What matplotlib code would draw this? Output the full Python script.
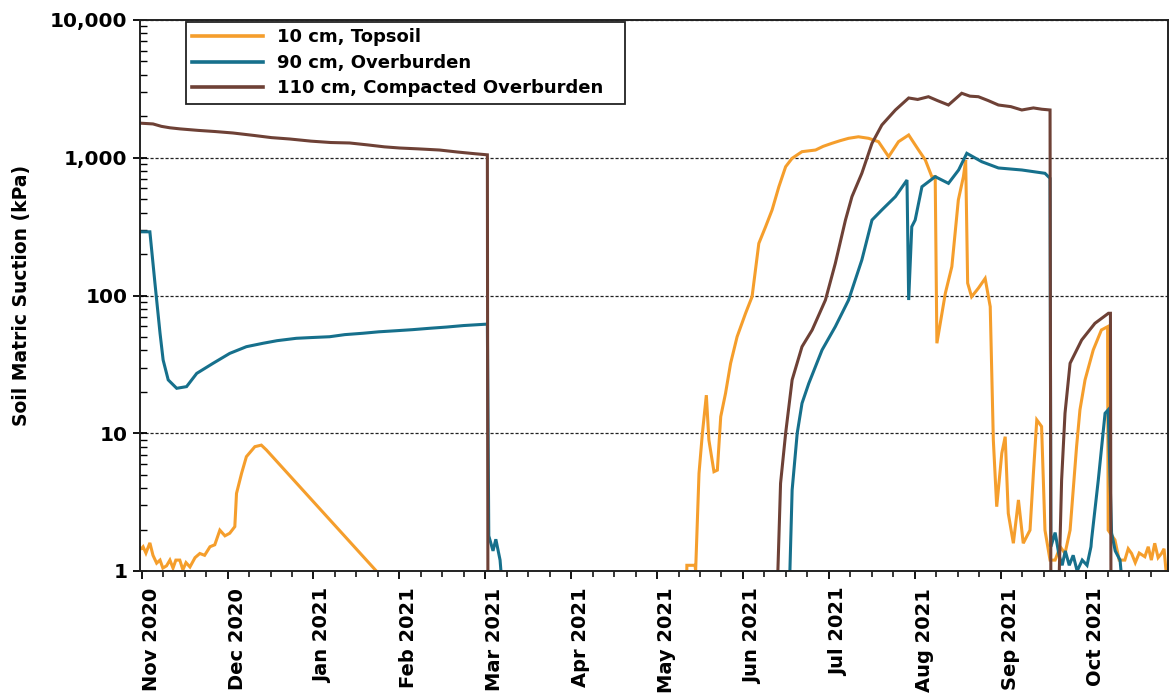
import matplotlib
matplotlib.use("Agg")
import matplotlib.pyplot as plt
from matplotlib.ticker import FixedLocator, FuncFormatter, LogLocator, NullFormatter
import numpy as np

# x values are days since 1 Nov 2020; suction in kPa (values < 1 are off-scale readings)
month_labels = ["Nov 2020", "Dec 2020", "Jan 2021", "Feb 2021", "Mar 2021", "Apr 2021",
                "May 2021", "Jun 2021", "Jul 2021", "Aug 2021", "Sep 2021", "Oct 2021"]

topsoil_day = [0, 0.5, 1.5, 2.9, 4.0, 5.3, 6.5, 7.5, 8.8, 10.0, 11.1, 12.1, 13.5, 14.6, 15.7,
               17.1, 18.9, 20.6, 22.3, 24.2, 25.9, 27.7, 29.5, 31.2, 33.0, 33.6, 35.4, 37.1,
               40.1, 42.4, 44.2, 95.0, 193.0,
               193.2, 196.1, 196.3, 197.5, 198.7, 200.1, 201.0, 202.8, 204.0, 205.2, 206.9,
               208.7, 211.0, 214.0, 216.3, 218.7, 221.1, 223.4, 225.8, 228.2, 230.5, 234.0,
               238.8, 241.5, 244.6, 247.5, 250.5, 254.0, 257.6, 261.1, 264.7, 268.2, 271.8,
               275.3, 277.7, 280.0, 281.2, 281.8, 284.8, 287.1, 289.4, 291.2, 292.0, 292.7,
               294.1, 296.5, 298.9, 300.7, 301.8, 303.0, 304.8, 306.0, 307.1, 308.9, 310.7,
               312.4, 314.8, 316.0, 317.2, 318.9, 320.1, 321.9, 323.7, 325.5, 327.2, 329.0,
               331.3, 332.5, 334.3, 337.2, 340.1, 342.3, 342.5, 344.9, 346.4, 348.4, 349.6,
               350.8, 352.1, 353.5, 355.5, 356.7, 357.8, 359.0, 360.2, 361.4, 362.3, 363.2]
topsoil_kpa = [1.46, 1.5, 1.35, 1.6, 1.3, 1.14, 1.2, 1.05, 1.09, 1.2, 1.05, 1.2, 1.2, 1.02, 1.15,
               1.07, 1.25, 1.34, 1.3, 1.5, 1.55, 1.98, 1.8, 1.88, 2.1, 3.66, 5.12, 6.76,
               7.99, 8.2, 7.56, 0.54, 0.5,
               1.1, 1.1, 1.0, 5.12, 10.0, 18.9, 8.93, 5.26, 5.4, 13.2, 19.5,
               32.2, 50.2, 74.3, 98, 239, 316, 418, 616, 861, 991, 1107,
               1138, 1210, 1273, 1330, 1384, 1420, 1384, 1308, 1018, 1308, 1463,
               1138, 963, 729, 729, 45, 104, 162, 494, 729, 963, 123,
               98, 113, 133, 83, 8.93, 2.93, 7.15, 9.44, 2.62, 1.59, 3.28,
               1.59, 1.98, 5.12, 12.5, 11.2, 1.98, 1.2, 1.2, 1.5, 1.34, 1.98,
               7.99, 14.8, 24.4, 40.2, 56.2, 59.4, 1.98, 1.68, 1.2, 1.2, 1.45,
               1.34, 1.15, 1.35, 1.27, 1.5, 1.2, 1.59, 1.25, 1.34, 1.45, 0.9]

overburden_day = [0, 2.9, 4.7, 6.5, 7.6, 9.4, 12.4, 15.9, 19.5, 25.3, 31.2, 37.1, 43.0, 48.0,
                  54.8, 60.0, 66.6, 72.0, 78.4, 84.0, 90.2, 96.0, 102.0, 108.0, 114.0, 122.5,
                  123.0, 124.5, 125.5, 127.0, 128.5, 229.3,
                  230.5, 232.3, 234.0, 236.4, 241.1, 245.8, 250.5, 255.2, 258.8, 262.3, 267.1,
                  271.2, 271.8, 272.9, 274.1, 276.5, 281.2, 285.9, 289.5, 292.4, 297.7, 303.6,
                  311.9, 320.1, 321.9, 322.2, 323.7, 325.1, 326.2, 327.3, 328.7, 330.1, 331.5,
                  333.3, 335.0, 336.4, 336.6, 339.0, 341.4, 342.5, 343.7, 345.0, 346.7, 348.4]
overburden_kpa = [290, 290, 122.6, 53.2, 34.0, 24.4, 21.2, 21.8, 27.2, 32.2, 38.0, 42.5, 45.0, 47.0,
                  48.9, 49.5, 50.2, 52.0, 53.2, 54.5, 55.5, 56.5, 57.8, 59.0, 60.5, 62.0,
                  1.8, 1.4, 1.7, 1.2, 0.5, 0.5,
                  3.87, 10.0, 16.5, 23.0, 40.2, 59.4, 92.7, 181, 353, 418, 522,
                  689, 92.7, 316, 353, 616, 729, 652, 815, 1077, 936, 843,
                  815, 771, 709, 1.5, 1.9, 1.3, 1.1, 1.4, 1.1, 1.3, 1.0,
                  1.2, 1.1, 1.5, 1.68, 4.58, 13.96, 14.8, 1.89, 1.4, 1.2, 0.5]

compacted_day = [0, 4, 7, 10, 13.6, 20, 26, 32.3, 40, 46, 52.5, 60, 67, 73.7, 80, 86, 91.4,
                 98, 105.5, 112, 118, 122.5, 122.7, 225.0,
                 226.4, 228.2, 230.5, 234.0, 237.6, 242.3, 245.8, 249.4, 251.7, 255.2, 258.8,
                 262.3, 267.1, 271.8, 275.0, 278.8, 282.0, 285.9, 290.6, 293.5, 296.5, 300.0,
                 303.6, 308.0, 311.9, 316.0, 319.0, 321.9, 322.2, 324.8,
                 326.0, 327.2, 329.0, 333.1, 337.8, 342.6, 343.3, 343.5]
compacted_kpa = [1780, 1760, 1690, 1650, 1620, 1580, 1550, 1513, 1450, 1400, 1368, 1320, 1290,
                 1280, 1240, 1200, 1177, 1160, 1138, 1100, 1070, 1050, 0.5, 0.5,
                 4.33, 10.0, 24.4, 42.5, 56.2, 92.7, 171, 353, 522, 771, 1273,
                 1729, 2222, 2716, 2650, 2774, 2600, 2415, 2938, 2800, 2774, 2600,
                 2415, 2350, 2222, 2300, 2250, 2222, 0.5, 0.5,
                 4.58, 13.96, 32.2, 47.5, 62.8, 74.3, 74.3, 0.5]

series_labels = ["10 cm, Topsoil", "90 cm, Overburden", "110 cm, Compacted Overburden"]
series_colors = ["#F59E2C", "#16708C", "#6E4136"]

W, H = 1170, 700
fig = plt.figure(figsize=(W / 100, H / 100), dpi=100)
ax = fig.add_axes([140 / W, 1 - 571 / H, 1028 / W, 551 / H])

for d, v, lab, col in zip([topsoil_day, overburden_day, compacted_day],
                          [topsoil_kpa, overburden_kpa, compacted_kpa],
                          series_labels, series_colors):
    ax.plot(d, v, color=col, lw=2.2, label=lab, solid_joinstyle="miter")

ax.set_yscale("log")
ax.set_ylim(1, 10000)
month_len = 365.25 / 12
ax.set_xlim(-0.6, 363.7)

# axis ticks
ax.xaxis.set_major_locator(FixedLocator([k * month_len for k in range(12)]))
ax.xaxis.set_minor_locator(FixedLocator([k * month_len / 4 for k in range(48)]))
ax.set_xticklabels(month_labels, rotation=90, ha="left", va="top",
                   fontsize=14, fontweight="bold")
ax.tick_params(axis="x", which="major", direction="out", length=6, width=1.3, pad=6)
ax.tick_params(axis="x", which="minor", direction="out", length=4, width=1.1)

ax.yaxis.set_major_locator(LogLocator(base=10, numticks=10))
ax.yaxis.set_minor_locator(LogLocator(base=10, subs=np.arange(2, 10), numticks=10))
ax.yaxis.set_minor_formatter(NullFormatter())
ax.yaxis.set_major_formatter(FuncFormatter(lambda v, _: f"{v:,.0f}"))
ax.tick_params(axis="y", which="major", direction="inout", length=10, width=1.3, pad=4,
               labelsize=14.5)
ax.tick_params(axis="y", which="minor", direction="in", length=5, width=1.0)
for t in ax.get_yticklabels():
    t.set_fontweight("bold")

ax.yaxis.grid(True, which="major", linestyle=(0, (2.5, 1.5)), color="#222222", lw=0.9)
ax.set_axisbelow(True)

for s in ax.spines.values():
    s.set_linewidth(1.4)
    s.set_color("#222222")

ax.set_ylabel("Soil Matric Suction (kPa)", fontsize=13.5, fontweight="bold")
ax.yaxis.set_label_coords(-0.106, 0.5)

# legend box stretched to a fixed width
x0 = (186 - 140) / 1028
w = (625 - 186) / 1028
top = (571 - 22) / 551
hgt = (102 - 22) / 551
leg = ax.legend(loc="upper left", bbox_to_anchor=(x0, top - hgt, w, hgt), mode="expand",
                borderaxespad=0, handlelength=3.9, labelspacing=0.42, borderpad=0.35,
                fancybox=False, framealpha=1, edgecolor="#222222",
                prop={"weight": "bold", "size": 13})
leg.get_frame().set_linewidth(1.3)
for h in leg.legend_handles:
    h.set_linewidth(2.6)

fig.savefig("out.png", dpi=100)
